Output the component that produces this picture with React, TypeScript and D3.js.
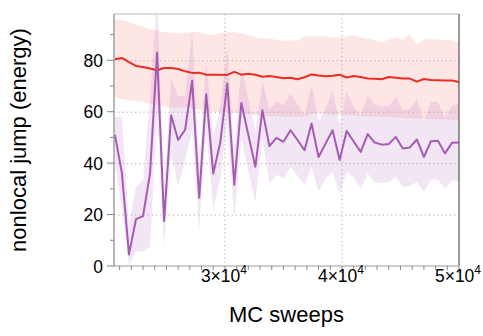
import React from "react";
import * as d3 from "d3";

const sweeps: number[] = Array.from({ length: 50 }, (_, i) => 20600 + 600 * i);

const redMean = [80.4, 80.9, 79.3, 77.8, 77.4, 76.8, 76.1, 77, 77, 76.6, 75.7, 75.1, 75.2, 74.4, 74.4, 74.4, 74.3, 75.5, 74.4, 74.8, 74.4, 73.6, 73.9, 73.5, 73.0, 73.2, 72.6, 73.4, 74.5, 74.1, 73.8, 74.0, 74.4, 73.3, 73.9, 73.5, 72.9, 72.8, 72.6, 73.5, 73.2, 72.9, 72.9, 71.7, 72.7, 72.3, 72.2, 72.1, 72.1, 71.5];
const redHigh = [96, 95.5, 95, 94, 93, 92, 91.5, 91, 90.7, 90.4, 90.7, 91, 91, 90, 89.7, 90.6, 90.8, 91, 90.5, 89.7, 89, 88.6, 88.4, 88, 87.5, 87.8, 87.6, 89.3, 89.3, 89.3, 89.3, 89, 88.8, 89.3, 89.7, 89, 88.4, 87.8, 87.1, 88, 89, 88, 90, 86, 88.4, 88.2, 88, 87.9, 87.8, 86.9];
const redLow = [65.5, 65, 64.5, 64.2, 63.8, 63.2, 62.6, 62, 61.6, 61.6, 61.5, 61.3, 60.8, 60.3, 60, 60, 59.8, 59.6, 59.4, 59, 58.6, 58.5, 58.3, 58.2, 58.1, 58, 58, 58.2, 59, 59.3, 59, 58.8, 58.8, 58.6, 58.5, 58.3, 58.2, 58.1, 58, 57.9, 57.8, 57.6, 57.5, 57.4, 57.3, 57.2, 57.1, 57, 56.9, 56.7];

const purpleMean = [51, 36, 4.5, 18.2, 19.4, 36, 83, 17.5, 58.6, 49, 53, 72, 26.5, 66.8, 36, 48, 71, 31.6, 63.4, 51, 38.6, 60.6, 46.6, 49.8, 48.3, 52.8, 49, 45, 55.4, 42.4, 47.6, 52.8, 41.2, 52.5, 48.4, 44.4, 51.3, 48, 47.2, 47.4, 50.2, 45.7, 46.1, 49.2, 42.4, 48.5, 48.7, 43.8, 47.9, 48];
const purpleLow = [40, 22, 0.5, 5.6, 5.6, 7.5, 60, 8, 44, 31, 41, 53, 14, 54, 22, 34, 57, 18, 49.5, 37, 24.5, 49.5, 32, 35.5, 34, 38.5, 35, 31.5, 38.6, 28.9, 34, 36.6, 28.2, 36.6, 34.5, 30.2, 36, 32.4, 32.4, 32.5, 34.7, 30.8, 31, 32.7, 28.9, 33.4, 33.5, 30.2, 33.1, 33.1];
const purpleHigh = [58, 58, 16, 30.8, 33.4, 65, 105, 30, 73, 66, 66, 91, 39, 79.3, 50, 62, 85, 45.5, 77.4, 65, 52.6, 71.6, 61, 64, 62.5, 67, 63, 58.5, 70.3, 56, 61.3, 68.3, 55, 67.7, 62, 58.5, 66.4, 63, 62, 62.3, 65.7, 60.6, 61.2, 64.9, 56.4, 63.8, 63.9, 57.5, 62.5, 62.9];

const yTicks = [0, 20, 40, 60, 80];
const yMinor = [10, 30, 50, 70, 90];
const xMajor = [30000, 40000, 50000];
const xMinor = d3.range(21000, 50000, 1000).filter((v) => v % 10000 !== 0);
const xGrid = [30000, 40000];

const W = 483, H = 336;
const L = 114, R = 459, T = 14, B = 266;

export default function App() {
  const x = d3.scaleLinear().domain([20520, 50000]).range([L, R]);
  const y = d3.scaleLinear().domain([0, 98]).range([B, T]);
  const idx = sweeps.map((_, i) => i);

  const area = (lo: number[], hi: number[]) =>
    d3.area<number>().x((i) => x(sweeps[i])).y0((i) => y(lo[i])).y1((i) => y(hi[i]))(idx) || "";
  const line = (m: number[]) =>
    d3.line<number>().x((i) => x(sweeps[i])).y((i) => y(m[i]))(idx) || "";

  const font = "'Liberation Sans', Arial, Helvetica, sans-serif";

  return (
    <svg width={W} height={H} style={{ position: "absolute", left: 0, top: 0 }} fontFamily={font}>
      <defs>
        <clipPath id="plot">
          <rect x={L} y={T} width={R - L} height={B - T} />
        </clipPath>
      </defs>
      <rect x={0} y={0} width={W} height={H} fill="#fff" />
      <g clipPath="url(#plot)">
        <path d={area(redLow, redHigh)} fill="rgb(250,90,80)" fillOpacity={0.15} />
        <path d={area(purpleLow, purpleHigh)} fill="rgb(165,85,185)" fillOpacity={0.15} />
      </g>
      <g stroke="#aaa" strokeWidth={1} strokeDasharray="1.2,3">
        {yTicks.filter((v) => v > 0).map((v) => (
          <line key={"gy" + v} x1={L} x2={R} y1={y(v) + 0.5} y2={y(v) + 0.5} />
        ))}
        {xGrid.map((v) => (
          <line key={"gx" + v} x1={x(v)} x2={x(v)} y1={T} y2={B} />
        ))}
      </g>
      <g clipPath="url(#plot)" fill="none" strokeLinejoin="round">
        <path d={line(redMean)} stroke="rgb(236,45,35)" strokeWidth={2} />
        <path d={line(purpleMean)} stroke="rgb(165,90,180)" strokeWidth={2} />
      </g>
      <line x1={L} x2={R} y1={T} y2={T} stroke="#bbb" strokeWidth={1} />
      <line x1={R} x2={R} y1={T} y2={B} stroke="#555" strokeWidth={1.2} />
      <line x1={L} x2={L} y1={T} y2={B + 0.5} stroke="#888" strokeWidth={1.2} />
      <line x1={L} x2={R} y1={B} y2={B} stroke="#999" strokeWidth={1.2} />
      <g stroke="#888" strokeWidth={1}>
        {yTicks.map((v) => (
          <line key={"yt" + v} x1={L - 7} x2={L} y1={y(v)} y2={y(v)} />
        ))}
        {yMinor.map((v) => (
          <line key={"ym" + v} x1={L - 4} x2={L} y1={y(v)} y2={y(v)} />
        ))}
        {xMajor.map((v) => (
          <line key={"xt" + v} x1={x(v)} x2={x(v)} y1={B} y2={B + 7} />
        ))}
        {xMinor.map((v) => (
          <line key={"xm" + v} x1={x(v)} x2={x(v)} y1={B} y2={B + 4} />
        ))}
      </g>
      <g fontSize={17.5} fill="#000">
        {yTicks.map((v) => (
          <text key={"yl" + v} x={L - 11} y={y(v) + 6.5} textAnchor="end">
            {v}
          </text>
        ))}
        {xMajor.map((v) => (
          <text key={"xl" + v} x={x(v) - 1} y={282} textAnchor="middle">
            {`${v / 10000}×10`}
            <tspan fontSize={12} dy={-8}>4</tspan>
          </text>
        ))}
      </g>
      <text x={(L + R) / 2} y={322} fontSize={22} textAnchor="middle" fill="#000">
        MC sweeps
      </text>
      <text
        transform={`translate(26,${(T + B) / 2}) rotate(-90)`}
        fontSize={22}
        textAnchor="middle"
        fill="#000"
      >
        nonlocal jump (energy)
      </text>
    </svg>
  );
}
